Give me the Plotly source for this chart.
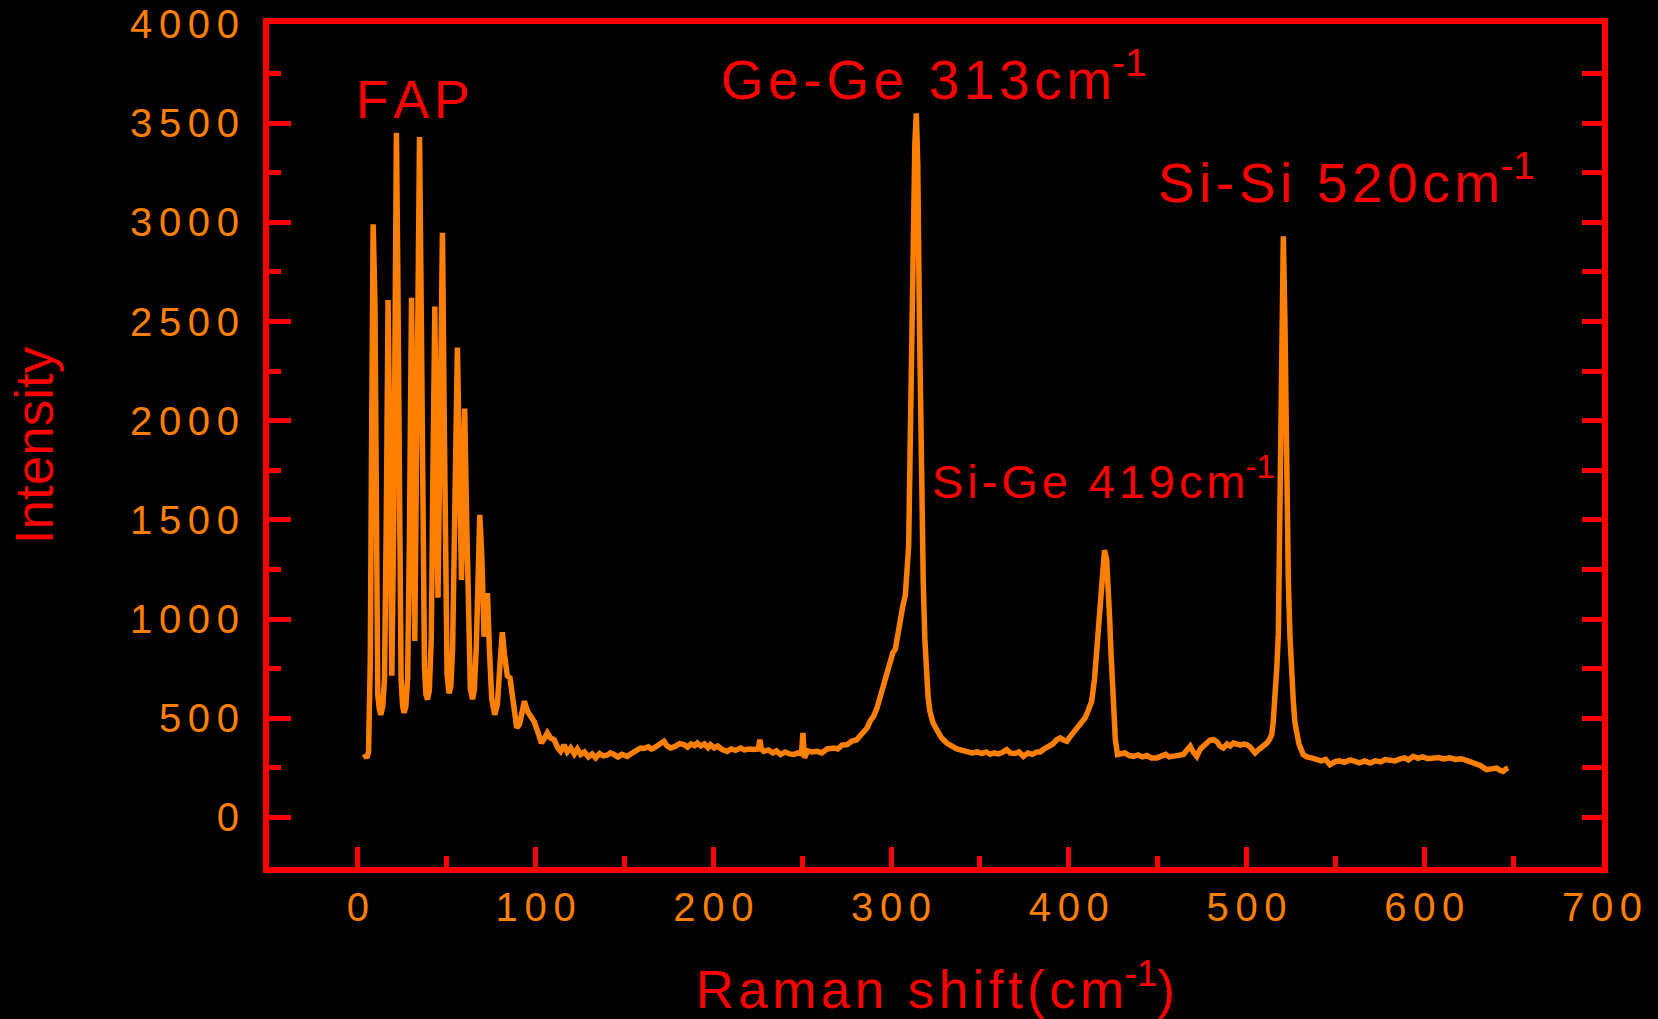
import plotly.graph_objects as go

# ---------------- data ----------------
raman_shift = [
    3.5, 5.0, 6.0, 7.0, 7.8, 8.6, 9.6, 10.4, 11.2, 12.0, 12.9, 14.0, 15.0, 16.0, 17.0, 18.0, 19.1,
    20.2, 21.0, 21.7, 22.5, 23.3, 24.3, 25.2, 26.0, 27.0, 28.0, 29.0, 30.2, 31.2, 32.0, 33.0, 34.0,
    34.7, 35.6, 36.5, 37.5, 38.3, 39.2, 40.2, 41.3, 42.2, 43.3, 44.3, 45.1, 46.3, 47.6, 48.6, 49.4,
    50.2, 51.3, 52.3, 53.3, 54.6, 56.0, 57.3, 58.3, 59.2, 60.1, 61.2, 62.2, 63.3, 64.5, 65.5, 66.6,
    67.6, 68.6, 69.8, 71.0, 72.0, 72.9, 74.0, 75.3, 77.0, 78.5, 79.8, 81.3, 82.5, 84.1, 85.6, 87.2,
    89.4, 91.0, 92.5, 93.7, 95.4, 97.2, 99.1, 101.3, 103.3, 105.0, 106.6, 108.5, 110.4, 112.5, 114.1,
    116.0, 117.8, 119.7, 121.8, 123.5, 125.4, 127.5, 129.7, 131.8, 133.8, 136.0, 138.0, 140.5, 142.0,
    144.1, 146.3, 148.5, 151.6, 153.5, 155.6, 157.5, 159.1, 161.2, 163.4, 165.0, 166.6, 169.0, 172.2,
    174.0, 176.0, 178.5, 181.0, 183.5, 185.5, 187.5, 189.5, 191.0, 193.0, 195.0, 197.0, 198.4, 200.5,
    202.5, 205.0, 207.8, 210.0, 212.5, 215.3, 217.5, 220.0, 222.8, 225.2, 226.2, 227.0, 228.4, 231.0,
    233.5, 235.5, 237.8, 240.5, 243.0, 245.3, 247.5, 249.6, 250.4, 251.0, 251.3, 253.0, 255.5, 258.4,
    261.0, 264.0, 267.8, 270.0, 272.5, 275.3, 278.0, 280.5, 282.7, 284.5, 286.5, 288.5, 290.2, 292.1,
    294.0, 295.8, 297.5, 299.6, 301.0, 302.4, 303.4, 304.3, 305.2, 306.5, 308.0, 309.0, 309.9, 310.8,
    311.7, 312.6, 313.4, 314.2, 315.0, 315.9, 316.6, 317.2, 318.1, 319.0, 319.7, 320.8, 321.9, 323.5,
    325.7, 328.5, 331.3, 334.0, 337.0, 340.0, 342.6, 345.5, 348.5, 351.0, 353.5, 355.8, 358.0, 360.5,
    363.0, 365.1, 367.0, 369.5, 372.0, 374.5, 377.0, 379.5, 382.0, 383.9, 386.0, 388.5, 391.0, 393.0,
    395.2, 397.0, 398.9, 401.0, 402.7, 404.5, 406.5, 409.2, 411.0, 412.9, 414.5, 415.7, 416.8, 417.6,
    418.9, 420.1, 421.3, 422.3, 423.0, 423.7, 424.5, 425.2, 426.2, 427.4, 429.5, 431.5, 434.0, 436.4,
    439.0, 441.5, 444.0, 446.5, 449.6, 452.0, 454.5, 456.5, 458.9, 461.5, 464.5, 466.5, 468.3, 470.0,
    472.0, 474.0, 475.8, 477.7, 479.5, 481.4, 483.5, 485.0, 487.0, 489.0, 490.8, 492.6, 494.5, 496.5,
    498.3, 500.1, 502.0, 503.5, 504.8, 506.5, 508.0, 509.5, 511.5, 513.0, 514.2, 515.0, 516.0, 517.0,
    517.9, 518.8, 519.7, 520.7, 521.6, 522.6, 523.5, 524.4, 525.3, 526.3, 527.2, 528.2, 529.5, 531.9,
    534.0, 536.5, 539.4, 542.0, 544.5, 546.9, 549.5, 552.0, 555.0, 558.2, 561.0, 563.5, 566.5, 569.4,
    572.5, 575.5, 578.0, 580.7, 583.5, 586.5, 589.0, 591.0, 593.8, 596.5, 599.0, 602.0, 605.0, 608.0,
    611.0, 614.4, 617.5, 620.5, 623.0, 625.6, 628.5, 631.5, 635.0, 638.0, 640.7, 642.5, 644.4, 646.0,
    647.2,
]
intensity = [
    320, 300, 330, 800, 2000, 2990, 2600, 1200, 620, 550, 517, 560, 700, 1500, 2609, 1800, 714,
    1500, 2800, 3452, 2700, 1300, 700, 560, 528, 560, 700, 1400, 2620, 1700, 889, 1800, 3000,
    3430, 2600, 1300, 750, 620, 594, 640, 900, 1700, 2576, 1600, 1108, 2000, 2948, 2000, 1100,
    720, 626, 660, 850, 1500, 2369, 1700, 1197, 1600, 2061, 1500, 900, 650, 596, 640, 850,
    1250, 1525, 1300, 911, 1050, 1131, 850, 600, 517, 570, 750, 934, 820, 714, 703, 600,
    451, 470, 540, 586, 535, 510, 485, 430, 375, 400, 426, 400, 392, 350, 333,
    365, 330, 350, 320, 345, 317, 330, 305, 320, 300, 322, 310, 315, 325,
    317, 305, 318, 308, 320, 335, 342, 350, 348, 356, 345, 350, 365, 384,
    360, 350, 358, 372, 367, 355, 370, 362, 375, 360, 370, 352, 367, 350,
    360, 342, 333, 345, 338, 350, 340, 345, 342, 345, 392, 345, 333, 340,
    325, 335, 317, 330, 320, 317, 325, 322, 426, 330, 300, 335, 330, 333,
    325, 345, 350, 345, 365, 367, 385, 390, 409, 425, 451, 490, 510, 552,
    610, 660, 720, 790, 830, 848, 906, 960, 1006, 1060, 1119, 1250, 1367, 1900,
    2540, 2990, 3400, 3550, 3300, 2540, 2000, 1637, 1187, 900, 737, 610, 533, 480,
    442, 400, 375, 360, 345, 338, 330, 325, 330, 322, 330, 318, 325, 320,
    330, 341, 325, 322, 330, 308, 325, 318, 330, 330, 345, 355, 370, 390,
    401, 390, 384, 410, 430, 451, 470, 502, 540, 586, 700, 838, 980, 1091,
    1250, 1347, 1300, 1175, 1000, 838, 650, 502, 390, 317, 320, 325, 312, 308,
    315, 305, 312, 300, 300, 310, 318, 305, 308, 315, 317, 340, 359, 330,
    308, 345, 360, 384, 390, 392, 380, 360, 350, 370, 360, 375, 370, 365,
    370, 367, 355, 340, 325, 340, 350, 359, 375, 395, 418, 480, 586, 750,
    924, 1500, 2300, 2930, 2500, 1700, 1200, 922, 720, 586, 480, 418, 370, 317,
    305, 300, 290, 285, 292, 266, 280, 285, 278, 290, 282, 275, 285, 274,
    285, 280, 292, 290, 285, 295, 300, 290, 308, 298, 305, 296, 300, 302,
    295, 300, 292, 296, 290, 283, 275, 262, 241, 248, 249, 238, 232, 245,
    249,
]

x_tick_values = [0, 100, 200, 300, 400, 500, 600, 700]
y_tick_values = [0, 500, 1000, 1500, 2000, 2500, 3000, 3500, 4000]

peak_labels = ["FAP", "Ge-Ge 313cm", "Si-Si 520cm", "Si-Ge 419cm"]
peak_label_x = [-2, 203, 449, 322]
peak_label_y = [3622, 3738, 3221, 1712]
peak_label_size = [54, 55, 55, 47]

x_title = "Raman shift(cm"
y_title = "Intensity"

# ---------------- styling ----------------
RED = "#FF0000"
ORANGE = "#FF8000"
FONT = "Liberation Sans, Arial, sans-serif"
HAIR = "\u200a"


def spaced(s, sep=HAIR):
    return sep.join(list(s))


fig = go.Figure()
fig.add_trace(go.Scatter(
    x=raman_shift, y=intensity, mode="lines",
    line=dict(color=ORANGE, width=5.5),
    showlegend=False, hoverinfo="skip",
))
# invisible companion so the right-hand tick axis is drawn
fig.add_trace(go.Scatter(
    x=raman_shift[:1], y=intensity[:1], yaxis="y2", mode="markers",
    marker=dict(opacity=0), showlegend=False, hoverinfo="skip",
))

for i, (txt, xx, yy) in enumerate(zip(peak_labels, peak_label_x, peak_label_y)):
    t = spaced(txt)
    if i > 0:
        t += "<sup>-1</sup>"
    fig.add_annotation(
        x=xx, y=yy, xref="x", yref="y", text=t, showarrow=False,
        xanchor="left", yanchor="middle",
        font=dict(family=FONT, size=peak_label_size[i], color=RED),
    )

fig.update_layout(
    width=1658, height=1019,
    margin=dict(l=269, r=56, t=24, b=152, autoexpand=False),
    paper_bgcolor="black", plot_bgcolor="black",
    showlegend=False,
    xaxis=dict(
        range=[-50, 700], automargin=False,
        tickvals=x_tick_values,
        ticktext=[spaced(str(v), HAIR + HAIR) for v in x_tick_values],
        ticks="inside", ticklen=20, tickwidth=5, tickcolor=RED,
        minor=dict(dtick=50, tick0=0, ticks="inside", ticklen=11, tickwidth=5, tickcolor=RED),
        showline=True, linecolor=RED, linewidth=6, mirror=True,
        showgrid=False, zeroline=False,
        tickfont=dict(family=FONT, size=40, color=ORANGE),
        title=dict(text=spaced(x_title) + "<sup>-1</sup>)",
                   font=dict(family=FONT, size=53, color=RED), standoff=47),
    ),
    yaxis=dict(
        range=[-250, 4000], automargin=False,
        tickvals=y_tick_values,
        ticktext=[spaced(str(v), HAIR + HAIR) for v in y_tick_values],
        ticks="inside", ticklen=22, tickwidth=5, tickcolor=RED,
        minor=dict(dtick=250, tick0=0, ticks="inside", ticklen=12, tickwidth=5, tickcolor=RED),
        showline=True, linecolor=RED, linewidth=6, mirror=True,
        showgrid=False, zeroline=False,
        ticklabelstandoff=16,
        tickfont=dict(family=FONT, size=40, color=ORANGE),
        title=dict(text=y_title, font=dict(family=FONT, size=53, color=RED), standoff=61),
    ),
    yaxis2=dict(
        range=[-250, 4000], overlaying="y", side="right", automargin=False,
        tickmode="linear", tick0=0, dtick=250,
        ticks="inside", ticklen=20, tickwidth=5, tickcolor=RED,
        showticklabels=False, showline=False, showgrid=False, zeroline=False,
    ),
)

fig.write_html("out.html")
